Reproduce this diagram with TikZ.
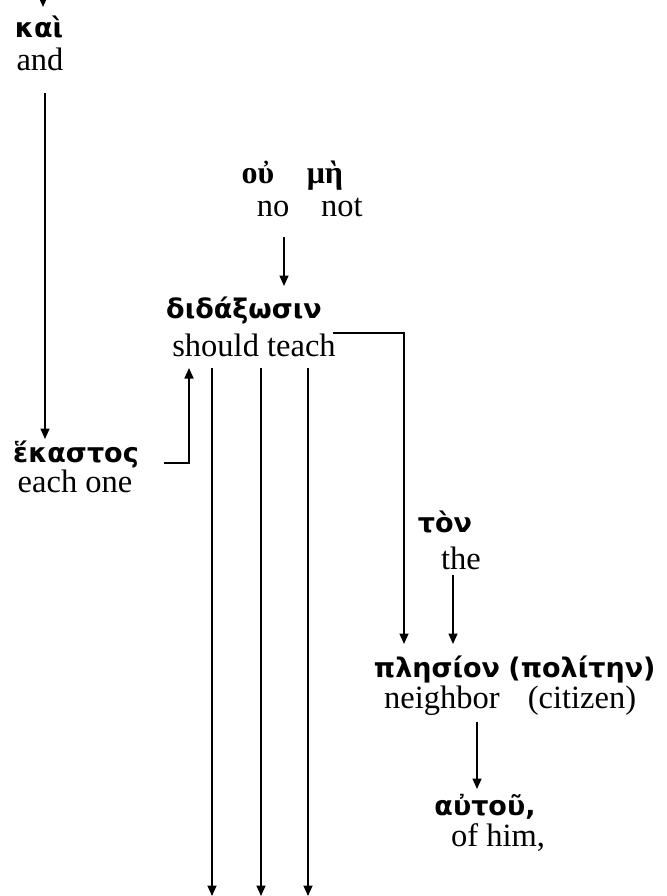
\documentclass[tikz,border=0pt]{standalone}
\usepackage{fontspec}
\setmainfont{Liberation Serif}
\newfontfamily\grk{DejaVu Sans}
\newfontfamily\grkserif{Liberation Serif}
\usetikzlibrary{arrows.meta}
\tikzset{
  gr/.style={inner sep=0pt, anchor=base, font=\grk\bfseries\fontsize{27}{32}\selectfont},
  grs/.style={inner sep=0pt, anchor=base, font=\grkserif\bfseries\fontsize{32}{38}\selectfont},
  en/.style={inner sep=0pt, anchor=base, font=\fontsize{32.5}{38}\selectfont},
  ln/.style={line width=1.6pt},
  arr/.style={ln, -{Triangle[length=10.5pt,width=9pt]}}
}
\begin{document}
\begin{tikzpicture}[x=1pt,y=-1pt]
\useasboundingbox (0,0) rectangle (666,896);
% words
\node[gr] (kai) at (39,38) {καὶ};
\node[en] (and) at (40,71) {and};
\node[grs] (ou) at (258,184) {οὐ};
\node[grs] (me) at (325,184) {μὴ};
\node[en] (no) at (273,216) {no};
\node[en] (not) at (342,216) {not};
\node[gr] (did) at (244,318) {διδάξωσιν};
\node[en] (teach) at (254,356) {should teach};
\node[gr] (hek) at (76,462) {ἕκαστος};
\node[en] (each) at (75,492) {each one};
\node[gr] (ton) at (445,532) {τὸν};
\node[en] (the) at (461,569) {the};
\node[gr] (ples) at (437,677) {πλησίον};
\node[gr] (pol) at (582,677) {(πολίτην)};
\node[en] (neigh) at (442,708) {neighbor};
\node[en] (cit) at (582,708) {(citizen)};
\node[gr] (auto) at (485,815) {αὐτοῦ,};
\node[en] (him) at (498,846) {of him,};
% connector ends
\coordinate (top) at (43,-4);
\coordinate (kaiIn) at (43,7);
\coordinate (andOut) at (45,93);
\coordinate (hekIn) at (45,439);
\coordinate (negOut) at (284,237);
\coordinate (didIn) at (284,286);
\coordinate (hekOut) at (164,463);
\coordinate (teachIn) at (189,368);
\coordinate (teachOut) at (333,333);
\coordinate (plesIn) at (404,644);
\coordinate (theOut) at (453,575);
\coordinate (plesIn2) at (453,644);
\coordinate (neighOut) at (477,722);
\coordinate (autoIn) at (477,789);
\coordinate (d1) at (212,368);
\coordinate (d2) at (261,368);
\coordinate (d3) at (308,368);
\coordinate (e1) at (212,896);
\coordinate (e2) at (261,896);
\coordinate (e3) at (308,896);
% connectors
\draw[arr] (top) -- (kaiIn);
\draw[arr] (andOut) -- (hekIn);
\draw[arr] (negOut) -- (didIn);
\draw[arr] (hekOut) -| (teachIn);
\draw[arr] (teachOut) -| (plesIn);
\draw[arr] (theOut) -- (plesIn2);
\draw[arr] (neighOut) -- (autoIn);
\draw[arr] (d1) -- (e1);
\draw[arr] (d2) -- (e2);
\draw[arr] (d3) -- (e3);
\end{tikzpicture}
\end{document}
